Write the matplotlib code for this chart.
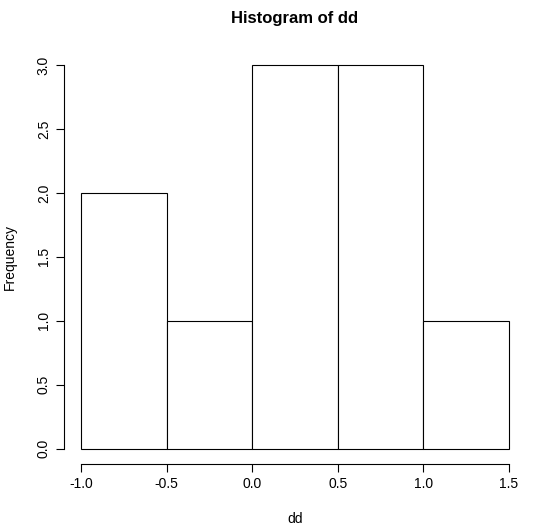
import matplotlib
matplotlib.use("Agg")
import matplotlib.pyplot as plt

bin_edges = [-1.0, -0.5, 0.0, 0.5, 1.0, 1.5]
counts = [2, 1, 3, 3, 1]
x_ticks = [-1.0, -0.5, 0.0, 0.5, 1.0, 1.5]
x_tick_labels = ["-1.0", "-0.5", "0.0", "0.5", "1.0", "1.5"]
y_ticks = [0.0, 0.5, 1.0, 1.5, 2.0, 2.5, 3.0]
y_tick_labels = ["0.0", "0.5", "1.0", "1.5", "2.0", "2.5", "3.0"]

plt.rcParams['font.family'] = ['Liberation Sans', 'DejaVu Sans']
fig = plt.figure(figsize=(5.4, 5.3), dpi=100)
ax = fig.add_axes([64/540, 1-464/530, (526-64)/540, (464-49.6)/530])

lefts = bin_edges[:-1]
widths = [b - a for a, b in zip(bin_edges[:-1], bin_edges[1:])]
ax.bar(lefts, counts, width=widths, align='edge', color='white', edgecolor='black', linewidth=0.8)

ax.set_xlim(-1.1, 1.6)
ax.set_ylim(-0.12, 3.12)
for s in ['top', 'right']:
    ax.spines[s].set_visible(False)
ax.spines['bottom'].set_bounds(-1.0, 1.5)
ax.spines['left'].set_bounds(0.0, 3.0)
ax.spines['bottom'].set_linewidth(0.8)
ax.spines['left'].set_linewidth(0.8)
ax.set_xticks(x_ticks, x_tick_labels, fontsize=10)
ax.set_yticks(y_ticks, y_tick_labels, fontsize=10, rotation=90, va='center')
ax.tick_params(length=6, width=0.8)

fig.text(0.5 * (64 + 526) / 540, 1 - 18/530, "Histogram of dd", ha='center', va='center', fontsize=12, fontweight='bold')
fig.text(0.5 * (64 + 526) / 540, 1 - 519/530, "dd", ha='center', va='center', fontsize=10)
fig.text(10/540, 1 - 257/530, "Frequency", ha='center', va='center', rotation=90, fontsize=10)

fig.savefig("out.png", dpi=100)
